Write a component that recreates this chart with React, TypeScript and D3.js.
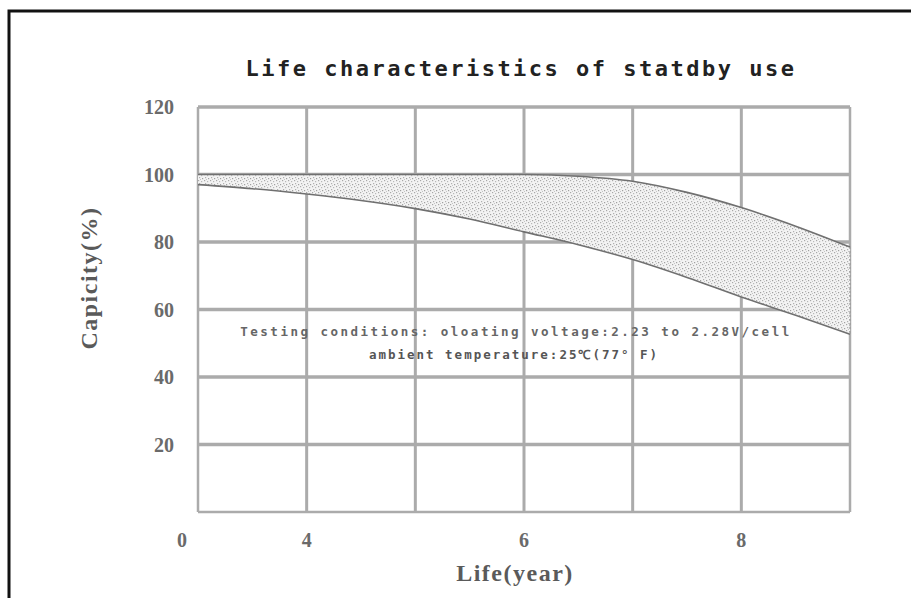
import React from "react";
import * as d3 from "d3";

const title = "Life characteristics of statdby use";
const yAxisTitle = "Capicity(%)";
const xAxisTitle = "Life(year)";
const noteLine1 = "Testing conditions: oloating voltage:2.23 to 2.28V/cell";
const noteLine2 = "ambient temperature:25℃(77° F)";

const gridCols = [0, 1, 2, 3, 4, 5, 6];
const yGridValues = [0, 20, 40, 60, 80, 100, 120];
const yTickValues = [20, 40, 60, 80, 100, 120];
const xTickPositions = [0, 1, 3, 5];
const xTickLabels = ["0", "4", "6", "8"];

const curveX = [0, 0.5, 1, 1.5, 2, 2.5, 3, 3.5, 4, 4.5, 5, 5.5, 6];
const upperY = [100, 100, 100, 100, 100, 100, 100, 99.5, 98, 94.7, 90.2, 84.7, 78.5];
const lowerY = [97, 95.8, 94.2, 92.3, 89.9, 86.8, 83, 79.2, 74.8, 69.5, 63.7, 58.3, 52.7];

const W = 911;
const H = 598;
const left = 198, right = 850, top = 107, bottom = 512;

export default function App() {
  const x = d3.scaleLinear().domain([0, 6]).range([left, right]);
  const y = d3.scaleLinear().domain([0, 120]).range([bottom, top]);

  type P = { x: number; hi: number; lo: number };
  const pts: P[] = curveX.map((cx, i) => ({ x: cx, hi: upperY[i], lo: lowerY[i] }));
  const curve = d3.curveMonotoneX;
  const area = d3.area<P>().x((d) => x(d.x)).y0((d) => y(d.lo)).y1((d) => y(d.hi)).curve(curve);
  const lineHi = d3.line<P>().x((d) => x(d.x)).y((d) => y(d.hi)).curve(curve);
  const lineLo = d3.line<P>().x((d) => x(d.x)).y((d) => y(d.lo)).curve(curve);

  const grey = "#ababab";
  const labelColor = "#6a6a6a";

  return (
    <svg
      width={W}
      height={H}
      viewBox={`0 0 ${W} ${H}`}
      style={{ position: "absolute", left: 0, top: 0, background: "#fff" }}
    >
      <defs>
        <pattern id="stipple" width="6" height="6" patternUnits="userSpaceOnUse">
          <rect width="6" height="6" fill="#f3f3f3" />
          <rect x="0" y="0" width="1.2" height="1.2" fill="#a8a8a8" />
          <rect x="3" y="1" width="1.2" height="1.2" fill="#b8b8b8" />
          <rect x="1" y="3" width="1.2" height="1.2" fill="#b0b0b0" />
          <rect x="4" y="4" width="1.2" height="1.2" fill="#a0a0a0" />
          <rect x="2" y="5" width="1" height="1" fill="#c4c4c4" />
        </pattern>
      </defs>

      {/* frame */}
      <rect x={9} y={11} width={W + 20} height={H + 20} fill="none" stroke="#111" strokeWidth={3} />

      {/* title */}
      <text
        x={521}
        y={76}
        textAnchor="middle"
        fontFamily="'DejaVu Sans Mono', monospace"
        fontWeight="bold"
        fontSize={22}
        letterSpacing={2.5}
        fill="#222"
      >
        {title}
      </text>

      {/* grid */}
      {yGridValues.map((v) => (
        <line key={"h" + v} x1={left} x2={right} y1={y(v)} y2={y(v)} stroke={grey} strokeWidth={v === 0 ? 2.5 : 3.5} />
      ))}
      {gridCols.map((c) => (
        <line key={"v" + c} x1={x(c)} x2={x(c)} y1={top} y2={bottom} stroke={grey} strokeWidth={c === 0 || c === 6 ? 2.5 : 3} />
      ))}

      {/* band */}
      <path d={area(pts) || ""} fill="url(#stipple)" />
      <path d={lineHi(pts) || ""} fill="none" stroke="#707070" strokeWidth={1.6} />
      <path d={lineLo(pts) || ""} fill="none" stroke="#707070" strokeWidth={1.6} />
      <line x1={x(6)} x2={x(6)} y1={y(upperY[upperY.length - 1])} y2={y(lowerY[lowerY.length - 1])} stroke="#9a9a9a" strokeWidth={1.2} strokeDasharray="2 2" />

      {/* note */}
      <text
        x={516}
        y={336}
        textAnchor="middle"
        fontFamily="'DejaVu Sans Mono', monospace"
        fontWeight="bold"
        fontSize={12.5}
        letterSpacing={2.5}
        fill="#666"
      >
        {noteLine1}
      </text>
      <text
        x={514}
        y={359}
        textAnchor="middle"
        fontFamily="'DejaVu Sans Mono', monospace"
        fontWeight="bold"
        fontSize={12.5}
        letterSpacing={2}
        fill="#555"
      >
        {noteLine2}
      </text>

      {/* y ticks */}
      {yTickValues.map((v) => (
        <text
          key={"yt" + v}
          x={174}
          y={y(v) + 7}
          textAnchor="end"
          fontFamily="'Liberation Serif', serif"
          fontWeight="bold"
          fontSize={20}
          fill={labelColor}
        >
          {v}
        </text>
      ))}

      {/* x ticks */}
      {xTickPositions.map((p, i) => (
        <text
          key={"xt" + p}
          x={x(p) + (p === 0 ? -16 : 0)}
          y={547}
          textAnchor="middle"
          fontFamily="'Liberation Serif', serif"
          fontWeight="bold"
          fontSize={20}
          fill={labelColor}
        >
          {xTickLabels[i]}
        </text>
      ))}

      {/* axis titles */}
      <text
        x={515}
        y={581}
        textAnchor="middle"
        fontFamily="'Liberation Serif', serif"
        fontWeight="bold"
        fontSize={24}
        letterSpacing={1.5}
        fill="#5a5a5a"
      >
        {xAxisTitle}
      </text>
      <text
        transform={`translate(97, 278) rotate(-90)`}
        textAnchor="middle"
        fontFamily="'Liberation Serif', serif"
        fontWeight="bold"
        fontSize={24}
        letterSpacing={1.5}
        fill="#5a5a5a"
      >
        {yAxisTitle}
      </text>
    </svg>
  );
}
